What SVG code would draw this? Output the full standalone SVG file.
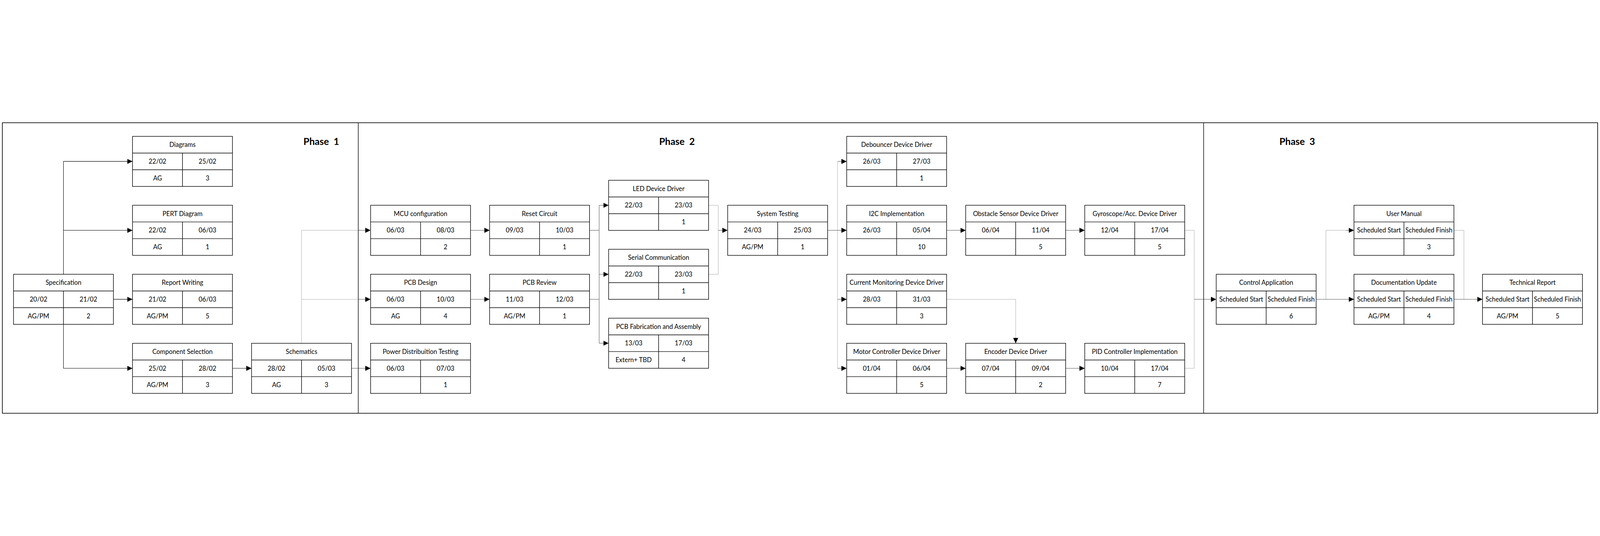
<svg xmlns="http://www.w3.org/2000/svg" width="7525" height="1372" viewBox="0 0 7525 1372" style="max-width:100vw;max-height:100vh">
<defs>
<style>
.bg{fill:#fff}
.frame{fill:none;stroke:#000;stroke-width:3}
.div{fill:none;stroke:#000;stroke-width:2.6}
.box{fill:#fff;stroke:#000;stroke-width:2.6}
.grid{fill:none;stroke:#000;stroke-width:2.6}
.t{font-family:Lato,"Liberation Sans",sans-serif;font-size:30px;fill:#000;text-anchor:middle}
.ph{font-family:Lato,"Liberation Sans",sans-serif;font-size:45px;font-weight:bold;fill:#000;text-anchor:middle}
.k{fill:none;stroke:#000;stroke-width:1.3}
.kk{fill:none;stroke:#000;stroke-width:2}
.g{fill:none;stroke:#888;stroke-width:1.3}
.a{marker-end:url(#arr)}
</style>
<marker id="arr" viewBox="0 0 25 24" refX="25" refY="12" markerWidth="25" markerHeight="24" markerUnits="userSpaceOnUse" orient="auto">
<path d="M0,0 L25,12 L0,24 z" fill="#000"/>
</marker>
<g id="cell">
<rect class="box" x="0" y="0" width="470" height="235.5"/>
<path class="grid" d="M0,78.5H470M0,157H470M235,78.5V235.5"/>
</g>
</defs>
<rect class="bg" x="0" y="0" width="7525" height="1372"/>
<rect class="frame" x="11" y="3" width="7503" height="1366"/>
<path class="div" d="M1685,3V1369M5661,3V1369"/>
<g id="phases">
<text class="ph" x="1511" y="107" xml:space="preserve">Phase  1</text>
<text class="ph" x="3184" y="107" xml:space="preserve">Phase  2</text>
<text class="ph" x="6101" y="107" xml:space="preserve">Phase  3</text>
</g>
<g id="connectors">
<path class="kk a" d="M298.5,715.5V184.75H623.3"/>
<path class="kk a" d="M298.5,508.75H623.3"/>
<path class="kk a" d="M533.5,833.25H623.3"/>
<path class="kk a" d="M298.5,951V1157.75H623.3"/>
<path class="kk a" d="M1093.3,1157.75H1183.1"/>
<path class="g" d="M1418.1,1040V508.75H1685"/>
<path class="k a" d="M1685,508.75H1742.9"/>
<path class="g" d="M1418.1,833.25H1685"/>
<path class="k a" d="M1685,833.25H1742.9"/>
<path class="k a" d="M1653.1,1157.75H1742.9"/>
<path class="k a" d="M2212.9,508.75H2302.7"/>
<path class="k a" d="M2212.9,833.25H2302.7"/>
<path class="k" d="M2772.7,508.75H2818M2772.7,833.25H2818M2818,391.25V1039.75"/>
<path class="k a" d="M2818,391.25H2862.5"/>
<path class="k a" d="M2818,715.75H2862.5"/>
<path class="k a" d="M2818,1039.75H2862.5"/>
<path class="g" d="M3332.5,391.25H3378V715.75H3332.5"/>
<path class="k a" d="M3378,508.75H3422.3"/>
<path class="k" d="M3892.3,508.75H3939"/>
<path class="g" d="M3939,184.75V1157.75"/>
<path class="k a" d="M3939,184.75H3982.1"/>
<path class="k a" d="M3939,508.75H3982.1"/>
<path class="k a" d="M3939,833.25H3982.1"/>
<path class="k a" d="M3939,1157.75H3982.1"/>
<path class="k a" d="M4452.1,508.75H4541.9"/>
<path class="k a" d="M4452.1,1157.75H4541.9"/>
<path class="g a" d="M4452.1,833.25H4776.9V1040"/>
<path class="k a" d="M5011.9,508.75H5101.7"/>
<path class="k a" d="M5011.9,1157.75H5101.7"/>
<path class="g" d="M5571.7,508.75H5616.5V1157.75H5571.7"/>
<path class="k a" d="M5616.5,833.25H5720"/>
<path class="k a" d="M6190,833.25H6368"/>
<path class="g" d="M6236,833.25V508.75H6330"/>
<path class="k a" d="M6330,508.75H6368"/>
<path class="g" d="M6838,508.75H6885V833.25"/>
<path class="k a" d="M6838,833.25H6972.5"/>
</g>
<g id="specification" transform="translate(63.5,715.5)"><use href="#cell"/><text class="t" x="235" y="50">Specification</text><text class="t" x="117.5" y="128.5">20/02</text><text class="t" x="352.5" y="128.5">21/02</text><text class="t" x="117.5" y="207">AG/PM</text><text class="t" x="352.5" y="207">2</text></g>
<g id="diagrams" transform="translate(623.3,67)"><use href="#cell"/><text class="t" x="235" y="50">Diagrams</text><text class="t" x="117.5" y="128.5">22/02</text><text class="t" x="352.5" y="128.5">25/02</text><text class="t" x="117.5" y="207">AG</text><text class="t" x="352.5" y="207">3</text></g>
<g id="pert-diagram" transform="translate(623.3,391)"><use href="#cell"/><text class="t" x="235" y="50">PERT Diagram</text><text class="t" x="117.5" y="128.5">22/02</text><text class="t" x="352.5" y="128.5">06/03</text><text class="t" x="117.5" y="207">AG</text><text class="t" x="352.5" y="207">1</text></g>
<g id="report-writing" transform="translate(623.3,715.5)"><use href="#cell"/><text class="t" x="235" y="50">Report Writing</text><text class="t" x="117.5" y="128.5">21/02</text><text class="t" x="352.5" y="128.5">06/03</text><text class="t" x="117.5" y="207">AG/PM</text><text class="t" x="352.5" y="207">5</text></g>
<g id="component-selection" transform="translate(623.3,1040)"><use href="#cell"/><text class="t" x="235" y="50">Component Selection</text><text class="t" x="117.5" y="128.5">25/02</text><text class="t" x="352.5" y="128.5">28/02</text><text class="t" x="117.5" y="207">AG/PM</text><text class="t" x="352.5" y="207">3</text></g>
<g id="schematics" transform="translate(1183.1,1040)"><use href="#cell"/><text class="t" x="235" y="50">Schematics</text><text class="t" x="117.5" y="128.5">28/02</text><text class="t" x="352.5" y="128.5">05/03</text><text class="t" x="117.5" y="207">AG</text><text class="t" x="352.5" y="207">3</text></g>
<g id="mcu-configuration" transform="translate(1742.9,391)"><use href="#cell"/><text class="t" x="235" y="50">MCU configuration</text><text class="t" x="117.5" y="128.5">06/03</text><text class="t" x="352.5" y="128.5">08/03</text><text class="t" x="352.5" y="207">2</text></g>
<g id="pcb-design" transform="translate(1742.9,715.5)"><use href="#cell"/><text class="t" x="235" y="50">PCB Design</text><text class="t" x="117.5" y="128.5">06/03</text><text class="t" x="352.5" y="128.5">10/03</text><text class="t" x="117.5" y="207">AG</text><text class="t" x="352.5" y="207">4</text></g>
<g id="power-distribution-testing" transform="translate(1742.9,1040)"><use href="#cell"/><text class="t" x="235" y="50">Power Distribuition Testing</text><text class="t" x="117.5" y="128.5">06/03</text><text class="t" x="352.5" y="128.5">07/03</text><text class="t" x="352.5" y="207">1</text></g>
<g id="reset-circuit" transform="translate(2302.7,391)"><use href="#cell"/><text class="t" x="235" y="50">Reset Circuit</text><text class="t" x="117.5" y="128.5">09/03</text><text class="t" x="352.5" y="128.5">10/03</text><text class="t" x="352.5" y="207">1</text></g>
<g id="pcb-review" transform="translate(2302.7,715.5)"><use href="#cell"/><text class="t" x="235" y="50">PCB Review</text><text class="t" x="117.5" y="128.5">11/03</text><text class="t" x="352.5" y="128.5">12/03</text><text class="t" x="117.5" y="207">AG/PM</text><text class="t" x="352.5" y="207">1</text></g>
<g id="led-device-driver" transform="translate(2862.5,273.5)"><use href="#cell"/><text class="t" x="235" y="50">LED Device Driver</text><text class="t" x="117.5" y="128.5">22/03</text><text class="t" x="352.5" y="128.5">23/03</text><text class="t" x="352.5" y="207">1</text></g>
<g id="serial-communication" transform="translate(2862.5,598)"><use href="#cell"/><text class="t" x="235" y="50">Serial Communication</text><text class="t" x="117.5" y="128.5">22/03</text><text class="t" x="352.5" y="128.5">23/03</text><text class="t" x="352.5" y="207">1</text></g>
<g id="pcb-fabrication" transform="translate(2862.5,922)"><use href="#cell"/><text class="t" x="235" y="50">PCB Fabrication and Assembly</text><text class="t" x="117.5" y="128.5">13/03</text><text class="t" x="352.5" y="128.5">17/03</text><text class="t" x="117.5" y="207">Extern+ TBD</text><text class="t" x="352.5" y="207">4</text></g>
<g id="system-testing" transform="translate(3422.3,391)"><use href="#cell"/><text class="t" x="235" y="50">System Testing</text><text class="t" x="117.5" y="128.5">24/03</text><text class="t" x="352.5" y="128.5">25/03</text><text class="t" x="117.5" y="207">AG/PM</text><text class="t" x="352.5" y="207">1</text></g>
<g id="debouncer-device-driver" transform="translate(3982.1,67)"><use href="#cell"/><text class="t" x="235" y="50">Debouncer Device Driver</text><text class="t" x="117.5" y="128.5">26/03</text><text class="t" x="352.5" y="128.5">27/03</text><text class="t" x="352.5" y="207">1</text></g>
<g id="i2c-implementation" transform="translate(3982.1,391)"><use href="#cell"/><text class="t" x="235" y="50">I2C Implementation</text><text class="t" x="117.5" y="128.5">26/03</text><text class="t" x="352.5" y="128.5">05/04</text><text class="t" x="352.5" y="207">10</text></g>
<g id="current-monitoring-device-driver" transform="translate(3982.1,715.5)"><use href="#cell"/><text class="t" x="235" y="50">Current Monitoring Device Driver</text><text class="t" x="117.5" y="128.5">28/03</text><text class="t" x="352.5" y="128.5">31/03</text><text class="t" x="352.5" y="207">3</text></g>
<g id="motor-controller-device-driver" transform="translate(3982.1,1040)"><use href="#cell"/><text class="t" x="235" y="50">Motor Controller Device Driver</text><text class="t" x="117.5" y="128.5">01/04</text><text class="t" x="352.5" y="128.5">06/04</text><text class="t" x="352.5" y="207">5</text></g>
<g id="obstacle-sensor-device-driver" transform="translate(4541.9,391)"><use href="#cell"/><text class="t" x="235" y="50">Obstacle Sensor Device Driver</text><text class="t" x="117.5" y="128.5">06/04</text><text class="t" x="352.5" y="128.5">11/04</text><text class="t" x="352.5" y="207">5</text></g>
<g id="encoder-device-driver" transform="translate(4541.9,1040)"><use href="#cell"/><text class="t" x="235" y="50">Encoder Device Driver</text><text class="t" x="117.5" y="128.5">07/04</text><text class="t" x="352.5" y="128.5">09/04</text><text class="t" x="352.5" y="207">2</text></g>
<g id="gyroscope-device-driver" transform="translate(5101.7,391)"><use href="#cell"/><text class="t" x="235" y="50">Gyroscope/Acc. Device Driver</text><text class="t" x="117.5" y="128.5">12/04</text><text class="t" x="352.5" y="128.5">17/04</text><text class="t" x="352.5" y="207">5</text></g>
<g id="pid-controller-implementation" transform="translate(5101.7,1040)"><use href="#cell"/><text class="t" x="235" y="50">PID Controller Implementation</text><text class="t" x="117.5" y="128.5">10/04</text><text class="t" x="352.5" y="128.5">17/04</text><text class="t" x="352.5" y="207">7</text></g>
<g id="control-application" transform="translate(5720,715.5)"><use href="#cell"/><text class="t" x="235" y="50">Control Application</text><text class="t" x="117.5" y="128.5">Scheduled Start</text><text class="t" x="352.5" y="128.5">Scheduled Finish</text><text class="t" x="352.5" y="207">6</text></g>
<g id="user-manual" transform="translate(6368,391)"><use href="#cell"/><text class="t" x="235" y="50">User Manual</text><text class="t" x="117.5" y="128.5">Scheduled Start</text><text class="t" x="352.5" y="128.5">Scheduled Finish</text><text class="t" x="352.5" y="207">3</text></g>
<g id="documentation-update" transform="translate(6368,715.5)"><use href="#cell"/><text class="t" x="235" y="50">Documentation Update</text><text class="t" x="117.5" y="128.5">Scheduled Start</text><text class="t" x="352.5" y="128.5">Scheduled Finish</text><text class="t" x="117.5" y="207">AG/PM</text><text class="t" x="352.5" y="207">4</text></g>
<g id="technical-report" transform="translate(6972.5,715.5)"><use href="#cell"/><text class="t" x="235" y="50">Technical Report</text><text class="t" x="117.5" y="128.5">Scheduled Start</text><text class="t" x="352.5" y="128.5">Scheduled Finish</text><text class="t" x="117.5" y="207">AG/PM</text><text class="t" x="352.5" y="207">5</text></g>
</svg>
